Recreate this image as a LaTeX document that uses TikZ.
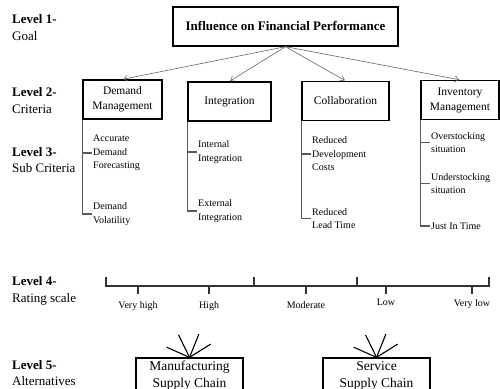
\documentclass[tikz,border=0pt]{standalone}
\usepackage{fontspec}
\setmainfont{Liberation Serif}
\usetikzlibrary{arrows.meta,positioning}

\tikzset{
	lvl/.style={anchor=west, align=left, inner sep=0pt, font=\fontsize{13}{16.5}\selectfont},
	crit/.style={draw, line width=1.3pt, minimum height=39pt, inner sep=0pt, align=center, font=\fontsize{11.5}{15}\selectfont},
	sub/.style={anchor=west, align=left, inner sep=1pt, font=\fontsize{10}{13.5}\selectfont},
	link/.style={draw=black!65, line width=1.2pt},
	pointer/.style={draw=black!60, line width=0.6pt, shorten >=0.8pt, -{Straight Barb[length=4pt,width=6pt]}},
	rate/.style={anchor=north, inner sep=0pt, font=\fontsize{10}{12}\selectfont},
	axis/.style={draw=black!80, line width=1.1pt},
	alt/.style={draw, line width=1.3pt, minimum width=107pt, minimum height=36pt, inner sep=0pt, align=center, font=\fontsize{13.5}{17}\selectfont},
	fan/.style={draw, line width=1.1pt},
}

\begin{document}
\begin{tikzpicture}[x=1pt,y=-1pt]
			%%%%% START %%%%%
			\useasboundingbox (0,0) rectangle (500,388);
			\clip (0,0) rectangle (500,388);
			
			% level names
			\node[lvl] (l1) at (12,27.5) {\textbf{Level 1-}\\Goal};
			\node[lvl] (l2) at (12,100.5) {\textbf{Level 2-}\\Criteria};
			\node[lvl] (l3) at (12,160) {\textbf{Level 3-}\\Sub Criteria};
			\node[lvl] (l4) at (12,291) {\textbf{Level 4-}\\Rating scale};
			\node[lvl] (l5) at (12,373) {\textbf{Level 5-}\\Alternatives};
			
			% goal and criteria
			\node[crit, minimum width=225pt, font=\bfseries\fontsize{13}{15}\selectfont] (goal) at (285.5,26.5) {Influence on Financial Performance};
			
			\node[crit, minimum width=79pt] (dm) at (122.5,99.5) {Demand\\Management};
			\node[crit, minimum width=83pt] (ig) at (229.5,101.5) {Integration};
			\node[crit, minimum width=87pt] (cb) at (345.5,101) {Collaboration};
			\node[crit, minimum width=78pt] (im) at (460,100) {Inventory\\Management};
			
			\foreach \c in {dm,ig,cb,im}
				\draw[pointer] (goal.south) -- (\c.north);
			
			% sub criteria
			\node[sub] (dm1) at (92,153) {Accurate\\Demand\\Forecasting};
			\node[sub] (dm2) at (92,214) {Demand\\Volatility};
			\node[sub] (ig1) at (197,152) {Internal\\Integration};
			\node[sub] (ig2) at (197,211) {External\\Integration};
			\node[sub] (cb1) at (311,154) {Reduced\\Development\\Costs};
			\node[sub] (cb2) at (311,218.5) {Reduced\\Lead Time};
			\node[sub] (im1) at (430,142.5) {Overstocking\\situation};
			\node[sub] (im2) at (430,183.5) {Understocking\\situation};
			\node[sub] (im3) at (430,226) {Just In Time};
			
			\foreach \p/\s in {dm/dm1,dm/dm2,ig/ig1,ig/ig2,cb/cb1,cb/cb2,im/im1,im/im2,im/im3}
				\draw[link] (\p.south west) |- (\s.west);
			
			% rating scale
			\coordinate (s0) at (106,286);
			\coordinate (s5) at (489,286);
			\draw[axis] (106,277) -- (s0) -- (s5) -- (489,277);
			\draw[axis] (254,286) -- (254,277);
			\draw[axis] (357,286) -- (357,277);
			
			\node[rate] (vh) at (138,301) {Very high};
			\node[rate] (hi) at (209,301) {High};
			\node[rate] (md) at (306,301) {Moderate};
			\node[rate] (lo) at (386,299) {Low};
			\node[rate] (vl) at (472,299) {Very low};
			
			\foreach \r/\g in {vh/7,hi/7,md/7,lo/5,vl/5}
				\draw[axis, shorten >=\g pt] (\r.north |- s0) -- (\r.north);
			
			% alternatives
			\node[alt] (mf) at (189.5,376) {Manufacturing\\Supply Chain};
			\node[alt] (sv) at (376.5,376) {Service\\Supply Chain};
			
			\foreach \a in {156,116,68,32}{
				\draw[fan] (mf.north) -- ++(\a:25pt);
				\draw[fan] (sv.north) -- ++(\a:25pt);
			}
			%%%%% END %%%%%
\end{tikzpicture}
\end{document}
